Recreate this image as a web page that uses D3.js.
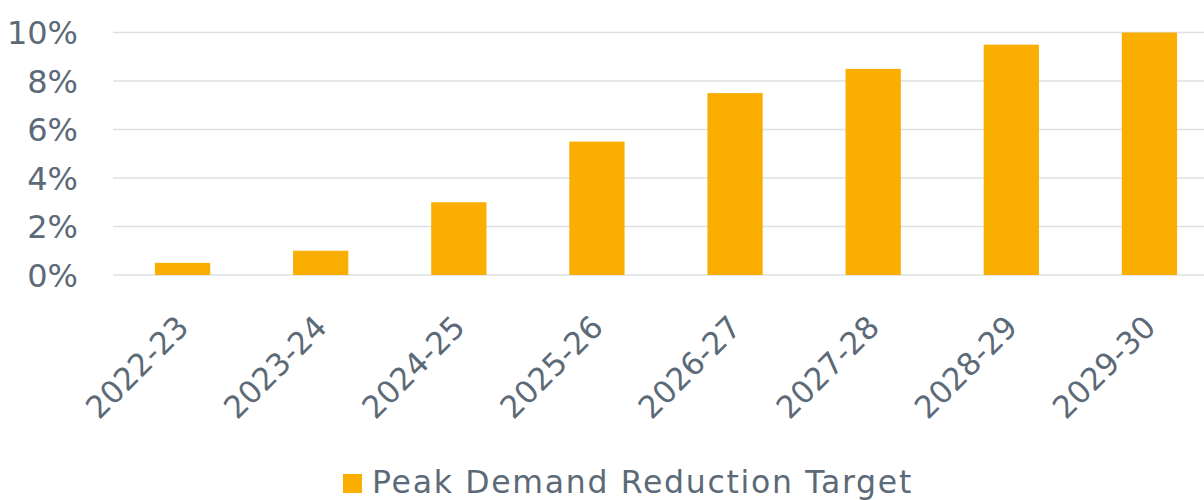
<!DOCTYPE html>
<html>
<head>
<meta charset="utf-8">
<script src="https://cdn.jsdelivr.net/npm/d3@7"></script>
<style>
  html, body { margin: 0; padding: 0; background: #fff; overflow: hidden; }
  text { font-family: "DejaVu Sans", sans-serif; fill: #5c6a78; }
</style>
</head>
<body>
<div id="container"></div>
<script>
// Peak demand reduction target by year

//### DATA ###
const years = [ '2022-23', '2023-24', '2024-25', '2025-26', '2026-27', '2027-28', '2028-29', '2029-30' ];
const targets = [ 0.5, 1, 3, 5.5, 7.5, 8.5, 9.5, 10 ];
const yTicks = [ 0, 2, 4, 6, 8, 10 ];
const seriesName = 'Peak Demand Reduction Target';

//_____ LAYOUT _____
const width = 1204;
const height = 500;
const barColor = '#f9ae00';
const gridColor = '#dde0e4';
const textColor = '#5c6a78';

const svg = d3.select( '#container' )
  .append( 'svg' )
  .attr( 'width', width )
  .attr( 'height', height );

//_____ SCALES _____
const xScale = d3.scaleBand()
  .domain( years )
  .range( [ 113.5, 1218.5 ] )
  .paddingInner( 0.6 )
  .paddingOuter( 0.3 );

const yScale = d3.scaleLinear()
  .domain( [ 0, 10 ] )
  .range( [ 275, 32.5 ] );

//_____ GRIDLINES _____
svg.append( 'g' )
  .selectAll( 'line' )
  .data( yTicks )
  .enter()
  .append( 'line' )
  .attr( 'x1', 113 )
  .attr( 'x2', width )
  .attr( 'y1', d => yScale( d ) )
  .attr( 'y2', d => yScale( d ) )
  .attr( 'stroke', gridColor )
  .attr( 'stroke-width', 1.5 );

//_____ Y AXIS LABELS _____
const yAxis = d3.axisLeft( yScale )
  .tickValues( yTicks )
  .tickFormat( d => d + '%' )
  .tickSize( 0 )
  .tickPadding( 0 );

svg.append( 'g' )
  .attr( 'transform', 'translate(78, 0)' )
  .call( yAxis )
  .call( g => g.select( '.domain' ).remove() )
  .selectAll( 'text' )
  .attr( 'dy', '0.35em' )
  .style( 'font-size', '32px' )
  .style( 'fill', textColor )
  .style( 'font-family', '"DejaVu Sans", sans-serif' );

//_____ BARS _____
svg.append( 'g' )
  .selectAll( 'rect' )
  .data( targets )
  .enter()
  .append( 'rect' )
  .attr( 'x', ( d, i ) => xScale( years[ i ] ) )
  .attr( 'y', d => yScale( d ) )
  .attr( 'width', xScale.bandwidth() )
  .attr( 'height', d => yScale( 0 ) - yScale( d ) )
  .attr( 'fill', barColor );

//_____ X AXIS LABELS (rotated) _____
svg.append( 'g' )
  .selectAll( 'text' )
  .data( years )
  .enter()
  .append( 'text' )
  .attr( 'transform', d => `translate(${xScale( d ) + xScale.bandwidth() / 2 + 8}, 329) rotate(-45)` )
  .attr( 'text-anchor', 'end' )
  .style( 'font-size', '31px' )
  .text( d => d );

//_____ LEGEND _____
const legend = svg.append( 'g' )
  .attr( 'transform', 'translate(343, 474)' );

legend.append( 'rect' )
  .attr( 'width', 19 )
  .attr( 'height', 19 )
  .attr( 'fill', barColor );

legend.append( 'text' )
  .attr( 'x', 29 )
  .attr( 'y', 19 )
  .style( 'font-size', '31.5px' )
  .style( 'letter-spacing', '1.7px' )
  .text( seriesName );
</script>
</body>
</html>
